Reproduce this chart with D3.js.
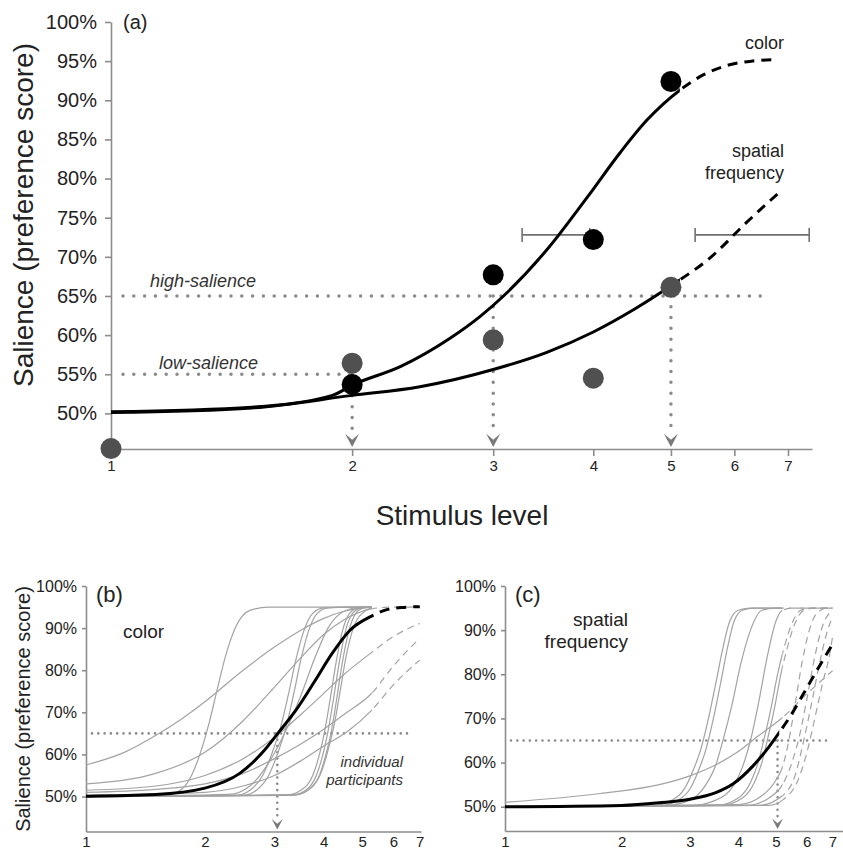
<!DOCTYPE html>
<html>
<head>
<meta charset="utf-8">
<script src="https://cdnjs.cloudflare.com/ajax/libs/d3/7.8.5/d3.min.js"></script>
<style>
body { margin: 0; background: #fff; }
svg text { font-family: "Liberation Sans", Arial, Helvetica, sans-serif; fill: #222; }
</style>
</head>
<body>
<div id="DrawZone"></div>
<script>
// ---------- data ----------
var levels = [1, 2, 3, 4, 5, 6, 7];
var pctTicksA = [50, 55, 60, 65, 70, 75, 80, 85, 90, 95, 100];
var pctTicksBC = [50, 60, 70, 80, 90, 100];

// (a) mean preference scores per stimulus level
var colorPoints = [[2, 53.7], [3, 67.7], [4, 72.2], [5, 92.4]];
var spatialPoints = [[1, 45.5], [2, 56.4], [3, 59.4], [4, 54.5], [5, 66.1]];

// (a) fitted curves; beyond the split level they are drawn dashed (extrapolated)
var colorFit = [[1, 50.2], [1.5, 50.8], [1.89, 52.3], [2, 53.6], [2.3, 56], [2.65, 59.6], [2.89, 62.4], [3.09, 65], [3.5, 70.9], [3.93, 77.6], [4.32, 83.3], [4.67, 87.5], [5.13, 91.3], [5.5, 93.3], [5.9, 94.5], [6.3, 95], [6.78, 95.2]];
var spatialFit = [[1, 50.1], [1.5, 50.7], [2, 52.3], [2.43, 53.4], [3, 55.6], [3.5, 57.8], [4, 60.4], [4.5, 63.3], [5, 66.3], [5.6, 69.9], [6.2, 74.3], [6.82, 78.2]];
var splitA = 5.13;

// (a) salience criteria and threshold arrows
var highSalience = 65, lowSalience = 55;
var arrowLevels = [2, 3, 5];
var arrowFrom = [55, 65, 65];

// (a) threshold confidence intervals
var ciLow = [3.26, 5.36];
var ciHigh = [3.96, 7.44];
var ciLevel = 72.8;

// (b) color: mean fit + individual participants
var colorMeanB = [[1, 50.1], [1.5, 50.5], [2, 52], [2.45, 55.5], [2.8, 60.5], [3.06, 65], [3.4, 70.5], [3.8, 77.5], [4.2, 84], [4.66, 89.5], [5.27, 92.8], [5.7, 94.2], [6.3, 94.9], [7, 95.1]];
var colorPeople = [
  [[1, 57.5], [1.25, 60.5], [1.5, 64.5], [1.75, 68.5], [2, 72.5], [2.5, 80], [3, 85.5], [3.5, 89.5], [4, 92.3], [4.5, 94], [5, 94.8], [5.3, 95]],
  [[1, 50], [1.6, 50.4], [1.75, 51.8], [1.85, 55], [1.95, 60.5], [2.05, 67.5], [2.15, 75.5], [2.25, 83], [2.4, 90.5], [2.6, 94.2], [2.9, 95], [5.3, 95]],
  [[1, 53], [1.5, 55.5], [2, 60.5], [2.5, 68], [3, 76], [3.5, 83], [4, 88.5], [4.5, 92], [5.3, 94.8]],
  [[1, 51.5], [1.5, 52.5], [2, 55], [2.5, 59], [3, 64], [3.5, 69.5], [4, 74.5], [4.5, 79], [5.3, 84.3], [6, 88], [7, 91.1]],
  [[1, 51], [1.5, 51.7], [2, 53], [2.5, 55.5], [3, 59], [3.5, 62.5], [4, 66], [4.5, 69.5], [5.3, 74.6], [6, 81], [7, 87.6]],
  [[1, 50.3], [2, 51], [2.5, 52.5], [3, 55], [3.5, 58.5], [4, 62], [4.6, 65.5], [5.3, 70.6], [6, 76.5], [7, 82.4]],
  [[1, 50], [2.4, 50.3], [2.6, 51.5], [2.8, 55], [2.95, 60], [3.1, 66], [3.25, 74], [3.4, 82.5], [3.55, 89], [3.75, 93.5], [4, 94.8], [4.5, 95], [5.3, 95]],
  [[1, 50], [2.5, 50.3], [2.7, 51.5], [2.9, 55], [3.05, 60], [3.2, 66], [3.35, 74], [3.5, 82.5], [3.65, 89], [3.85, 93.5], [4.1, 94.8], [4.6, 95], [5.3, 95]],
  [[1, 50], [2.3, 50.5], [2.6, 52.5], [2.9, 58], [3.2, 65.5], [3.5, 74], [3.8, 83], [4.1, 90], [4.5, 94], [5, 95], [5.3, 95]],
  [[1, 50], [3.2, 50.3], [3.5, 51.5], [3.75, 55], [3.9, 60], [4.02, 65.5], [4.15, 73], [4.3, 82], [4.45, 89], [4.65, 93.5], [4.9, 94.8], [5.3, 95]],
  [[1, 50], [3.3, 50.3], [3.6, 51.5], [3.83, 55], [3.98, 60], [4.1, 65.5], [4.23, 73], [4.38, 82], [4.53, 89], [4.73, 93.5], [4.98, 94.8], [5.3, 95]],
  [[1, 50], [3.35, 50.3], [3.65, 51.5], [3.9, 55], [4.05, 60], [4.18, 65.5], [4.31, 73], [4.46, 82], [4.62, 89], [4.82, 93.5], [5.05, 94.8], [5.3, 95]],
  [[1, 50], [3.4, 50.5], [3.7, 52], [3.95, 56], [4.1, 61], [4.25, 67], [4.4, 75], [4.55, 83], [4.75, 90], [5, 93.5], [5.3, 94.6], [6, 95], [7, 95]]
];
var colorThresholdB = 3.05;
var splitMeanB = 5.27, splitPeopleB = 5.3;

// (c) spatial frequency: mean fit + individual participants
var spatialMeanC = [[1, 50], [2, 50.3], [2.5, 50.9], [3, 51.7], [3.5, 53.2], [3.88, 55.2], [4.36, 59.2], [4.82, 63.8], [5.1, 66.8], [5.42, 70.2], [5.98, 76.6], [6.48, 81.9], [7, 86.8]];
var spatialPeople = [
  [[1, 51], [1.76, 53], [2.5, 55], [3, 57], [3.5, 59.5], [4, 62.5], [4.5, 66], [5.2, 70.2], [6, 75.5], [7, 80.8]],
  [[1, 50], [2.4, 50.2], [2.7, 51.5], [2.9, 54], [3.05, 58], [3.2, 63], [3.35, 70], [3.5, 78], [3.65, 86], [3.8, 92], [4, 94.5], [4.3, 95], [5.2, 95]],
  [[1, 50], [2.5, 50.2], [2.8, 51.5], [3, 54], [3.15, 58], [3.3, 63], [3.45, 70], [3.6, 78], [3.75, 86], [3.9, 92], [4.1, 94.5], [4.4, 95], [5.2, 95]],
  [[1, 50], [2.6, 50.3], [3, 51.5], [3.3, 55], [3.5, 59.5], [3.65, 65], [3.85, 73], [4.05, 82], [4.3, 90], [4.6, 94.5], [5, 95], [7, 95]],
  [[1, 50], [3, 50.2], [3.5, 51.5], [3.9, 55], [4.1, 59], [4.3, 65], [4.5, 73], [4.75, 84], [5, 92], [5.2, 94.5], [5.5, 95], [7, 95]],
  [[1, 50], [3.5, 50.3], [4, 52], [4.3, 55.5], [4.5, 60], [4.65, 65], [4.85, 72], [5.05, 80], [5.25, 86], [5.5, 91.5], [5.8, 94.5], [6.2, 95], [7, 95]],
  [[1, 50], [3.6, 50.3], [4.1, 52], [4.4, 55.5], [4.6, 60], [4.75, 65], [4.95, 72], [5.15, 80], [5.35, 86], [5.6, 91.5], [5.9, 94.5], [6.3, 95], [7, 95]],
  [[1, 50], [4, 50.5], [4.6, 52.5], [5, 56], [5.2, 59], [5.4, 65], [5.6, 73], [5.85, 83], [6.1, 90], [6.4, 94], [6.8, 95], [7, 95]],
  [[1, 50], [4.2, 50.3], [4.8, 52], [5.2, 55], [5.5, 60], [5.75, 66], [6, 74], [6.3, 84], [6.6, 91], [7, 94.5]],
  [[1, 50], [4.5, 50.3], [5.2, 52.5], [5.6, 57], [5.9, 65], [6.2, 74], [6.5, 83], [6.8, 90], [7, 93]],
  [[1, 50], [4.8, 50.3], [5.2, 51.5], [5.7, 56], [6, 62], [6.3, 70], [6.6, 78], [6.9, 85], [7, 88.5]]
];
var spatialThresholdC = 5.05;
var splitMeanC = 5.1, splitPeopleC = 5.2;

// ---------- drawing ----------
var FontFamily = "Liberation Sans, Arial, Helvetica, sans-serif";
var svg = d3.select("#DrawZone").append("svg").attr("width", 843).attr("height", 849);
var defs = svg.append("defs");
var ClipCount = 0;

function Dotted(g, x1, y1, x2, y2, w, gap) {
	return g.append("line").attr("x1", x1).attr("y1", y1).attr("x2", x2).attr("y2", y2)
		.style("stroke", "#8a8a8a").style("stroke-width", w).style("stroke-linecap", "round")
		.style("stroke-dasharray", "0," + gap);
}

//Grey arrow head, tip at (x,y), pointing down
function ArrowHead(g, x, y, s) {
	return g.append("path")
		.attr("d", "M" + (x - s) + "," + (y - 1.9 * s) + "L" + x + "," + (y - 1.05 * s) + "L" + (x + s) + "," + (y - 1.9 * s) + "L" + x + "," + y + "Z")
		.style("fill", "#7a7a7a");
}

function StyleAxis(ax, size) {
	ax.attr("font-family", FontFamily).attr("font-size", size);
	ax.selectAll(".domain, .tick line").style("stroke", "#8c8c8c").style("stroke-width", 1.6);
	ax.selectAll(".tick text").style("fill", "#222");
}

//two clip rects : left part (solid) and right part (dashed) of a curve
function SplitClips(xPix) {
	ClipCount++;
	var l = "clipL" + ClipCount, r = "clipR" + ClipCount;
	defs.append("clipPath").attr("id", l).append("rect").attr("x", 0).attr("y", 0).attr("width", xPix).attr("height", 849);
	defs.append("clipPath").attr("id", r).append("rect").attr("x", xPix).attr("y", 0).attr("width", 843 - xPix).attr("height", 849);
	return [l, r];
}

function SplitCurve(g, line, data, clips, color, width, dash) {
	g.append("path").datum(data).attr("d", line).attr("clip-path", "url(#" + clips[0] + ")")
		.style("fill", "none").style("stroke", color).style("stroke-width", width);
	g.append("path").datum(data).attr("d", line).attr("clip-path", "url(#" + clips[1] + ")")
		.style("fill", "none").style("stroke", color).style("stroke-width", width).style("stroke-dasharray", dash);
}

//####################  panel (a)  ####################
var xA = d3.scaleLog().domain([1, 7.5]).range([111, 812]);
var yA = d3.scaleLinear().domain([45.45, 100]).range([449, 22]);
var lineA = d3.line().x(function (d) { return xA(d[0]); }).y(function (d) { return yA(d[1]); }).curve(d3.curveMonotoneX);
var A = svg.append("g");

var axYA = A.append("g").attr("transform", "translate(" + xA(1) + ",0)")
	.call(d3.axisLeft(yA).tickValues(pctTicksA).tickFormat(function (d) { return d + "%"; }).tickSize(6).tickSizeOuter(0).tickPadding(8));
StyleAxis(axYA, 20);
var axXA = A.append("g").attr("transform", "translate(0," + yA(45.45) + ")")
	.call(d3.axisBottom(xA).tickValues(levels).tickFormat(d3.format("d")).tickSize(7).tickSizeOuter(0).tickPadding(4));
StyleAxis(axXA, 15);

// criteria lines
Dotted(A, xA(1) + 12, yA(highSalience), xA(6.6), yA(highSalience), 3.5, 10.8);
Dotted(A, xA(1) + 12, yA(lowSalience), xA(2), yA(lowSalience), 3.5, 10.8);
arrowLevels.forEach(function (lv, i) {
	Dotted(A, xA(lv), yA(arrowFrom[i]), xA(lv), yA(45.45) - 14, 3.5, 10.8);
	ArrowHead(A, xA(lv), yA(45.45) - 2, 7);
});

// CI bars
ciLow.forEach(function (lo, i) {
	var g = A.append("g").style("stroke", "#707070").style("stroke-width", 1.6);
	g.append("line").attr("x1", xA(lo)).attr("x2", xA(ciHigh[i])).attr("y1", yA(ciLevel)).attr("y2", yA(ciLevel));
	g.append("line").attr("x1", xA(lo)).attr("x2", xA(lo)).attr("y1", yA(ciLevel) - 7).attr("y2", yA(ciLevel) + 7);
	g.append("line").attr("x1", xA(ciHigh[i])).attr("x2", xA(ciHigh[i])).attr("y1", yA(ciLevel) - 7).attr("y2", yA(ciLevel) + 7);
});

var clipsA = SplitClips(xA(splitA));
SplitCurve(A, lineA, spatialFit, clipsA, "#000", 3, "10,7");
SplitCurve(A, lineA, colorFit, clipsA, "#000", 3, "10,7");

A.selectAll("circle.sp").data(spatialPoints).enter().append("circle").attr("class", "sp")
	.attr("cx", function (d) { return xA(d[0]); }).attr("cy", function (d) { return yA(d[1]); }).attr("r", 10.5).style("fill", "#505050");
A.selectAll("circle.co").data(colorPoints).enter().append("circle").attr("class", "co")
	.attr("cx", function (d) { return xA(d[0]); }).attr("cy", function (d) { return yA(d[1]); }).attr("r", 10.5).style("fill", "#000");

A.append("text").attr("x", 123).attr("y", 29).attr("font-size", 20).text("(a)");
A.append("text").attr("x", 784).attr("y", 49).attr("font-size", 18).attr("text-anchor", "end").text("color");
A.append("text").attr("x", 784).attr("y", 157).attr("font-size", 18).attr("text-anchor", "end").text("spatial");
A.append("text").attr("x", 784).attr("y", 179).attr("font-size", 18).attr("text-anchor", "end").text("frequency");
A.append("text").attr("x", 150).attr("y", 287).attr("font-size", 18).style("font-style", "italic").style("fill", "#333").text("high-salience");
A.append("text").attr("x", 159).attr("y", 369).attr("font-size", 18).style("font-style", "italic").style("fill", "#333").text("low-salience");
A.append("text").attr("transform", "translate(33,215) rotate(-90)").attr("text-anchor", "middle").attr("font-size", 28).text("Salience (preference score)");
A.append("text").attr("x", 462).attr("y", 525).attr("text-anchor", "middle").attr("font-size", 28).text("Stimulus level");

//####################  panels (b) and (c)  ####################
function SmallPanel(cfg) {
	var x = d3.scaleLog().domain([1, cfg.xMax]).range([cfg.left, cfg.right]);
	var y = d3.scaleLinear().domain([cfg.yMin, 100]).range([cfg.bottom, 586]);
	var line = d3.line().x(function (d) { return x(d[0]); }).y(function (d) { return y(d[1]); }).curve(d3.curveMonotoneX);
	var g = svg.append("g");

	var ay = g.append("g").attr("transform", "translate(" + cfg.left + ",0)")
		.call(d3.axisLeft(y).tickValues(pctTicksBC).tickFormat(function (d) { return d + "%"; }).tickSize(4).tickSizeOuter(0).tickPadding(5));
	StyleAxis(ay, 16);
	var ax = g.append("g").attr("transform", "translate(0," + cfg.bottom + ")")
		.call(d3.axisBottom(x).tickValues(levels).tickFormat(d3.format("d")).tickSize(0).tickSizeOuter(0).tickPadding(5));
	StyleAxis(ax, 15);

	Dotted(g, cfg.left + 6, y(highSalience), cfg.dotEnd, y(highSalience), 2.6, 6.3);
	Dotted(g, x(cfg.threshold), y(highSalience), x(cfg.threshold), cfg.bottom - 11, 2.6, 6.3);
	ArrowHead(g, x(cfg.threshold), cfg.bottom - 2, 5.5);

	var clipsP = SplitClips(x(cfg.splitPeople));
	cfg.people.forEach(function (p) {
		SplitCurve(g, line, p, clipsP, "#a3a3a3", 1.2, "7,5");
	});
	SplitCurve(g, line, cfg.mean, SplitClips(x(cfg.splitMean)), "#000", 3, "10,7");

	g.append("text").attr("x", cfg.left + 10).attr("y", 602).attr("font-size", 22).text(cfg.tag);
	return g;
}

var B = SmallPanel({ left: 86, right: 421, xMax: 7.05, bottom: 831.5, yMin: 41.7, dotEnd: 408, threshold: colorThresholdB,
	people: colorPeople, mean: colorMeanB, splitPeople: splitPeopleB, splitMean: splitMeanB, tag: "(b)" });
B.append("text").attr("x", 123).attr("y", 638).attr("font-size", 19).text("color");
B.append("text").attr("x", 403).attr("y", 767).attr("font-size", 15).attr("text-anchor", "end").style("font-style", "italic").style("fill", "#333").text("individual");
B.append("text").attr("x", 403).attr("y", 785).attr("font-size", 15).attr("text-anchor", "end").style("font-style", "italic").style("fill", "#333").text("participants");
B.append("text").attr("transform", "translate(30,709) rotate(-90)").attr("text-anchor", "middle").attr("font-size", 20).text("Salience (preference score)");

var C = SmallPanel({ left: 505, right: 843, xMax: 7.45, bottom: 831, yMin: 44.5, dotEnd: 828, threshold: spatialThresholdC,
	people: spatialPeople, mean: spatialMeanC, splitPeople: splitPeopleC, splitMean: splitMeanC, tag: "(c)" });
C.append("text").attr("x", 628).attr("y", 626).attr("font-size", 19).attr("text-anchor", "end").text("spatial");
C.append("text").attr("x", 628).attr("y", 648).attr("font-size", 19).attr("text-anchor", "end").text("frequency");
</script>
</body>
</html>
